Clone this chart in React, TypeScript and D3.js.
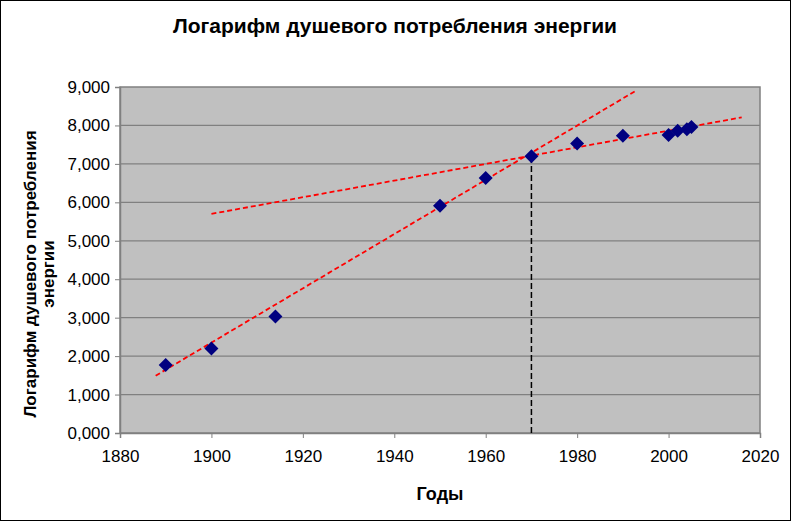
import React, { useEffect, useRef } from "react";
import * as d3 from "d3";

// measured points: year -> log of per-capita energy use
const years = [1890, 1900, 1914, 1950, 1960, 1970, 1980, 1990, 2000, 2002, 2004, 2005];
const values = [1.77, 2.2, 3.03, 5.91, 6.63, 7.2, 7.53, 7.73, 7.75, 7.86, 7.9, 7.96];

// trend lines (endpoints)
const steepTrendYears = [1887.8, 1992.8];
const steepTrendValues = [1.49, 8.9];
const flatTrendYears = [1900, 2016];
const flatTrendValues = [5.7, 8.21];

// vertical marker at the break year
const breakYear = 1970;
const breakValue = 7.2;

const xTicks = [1880, 1900, 1920, 1940, 1960, 1980, 2000, 2020];
const yTicks = [0, 1, 2, 3, 4, 5, 6, 7, 8, 9];

const title = "Логарифм душевого потребления энергии";
const xTitle = "Годы";
const yTitle = ["Логарифм душевого потребления", "энергии"];

const App: React.FC = () => {
  const svgRef = useRef<SVGSVGElement | null>(null);

  useEffect(() => {
    const width = 791;
    const height = 521;
    const marginLeft = 120;
    const marginRight = 31;
    const marginTop = 87;
    const marginBottom = 88;
    const font = "'Liberation Sans Narrow', 'Arial Narrow', 'Liberation Sans', Arial, sans-serif";

    const svg = d3.select(svgRef.current);
    svg.selectAll("*").remove();
    svg
      .attr("width", width)
      .attr("height", height)
      .attr("viewBox", [0, 0, width, height])
      .style("font-family", font);

    svg
      .append("rect")
      .attr("x", 0.5)
      .attr("y", 0.5)
      .attr("width", width - 1)
      .attr("height", height - 1)
      .attr("fill", "#ffffff")
      .attr("stroke", "#000000");

    const x = d3.scaleLinear().domain([1880, 2020]).range([marginLeft, width - marginRight]);
    const y = d3.scaleLinear().domain([0, 9]).range([height - marginBottom, marginTop]);

    // plot area
    svg
      .append("rect")
      .attr("x", x(1880))
      .attr("y", y(9))
      .attr("width", x(2020) - x(1880))
      .attr("height", y(0) - y(9))
      .attr("fill", "#c0c0c0")
      .attr("stroke", "#808080")
      .attr("stroke-width", 1.5);

    // gridlines
    svg
      .append("g")
      .selectAll("line")
      .data(yTicks.slice(1, -1))
      .enter()
      .append("line")
      .attr("x1", x(1880))
      .attr("x2", x(2020))
      .attr("y1", (d) => y(d))
      .attr("y2", (d) => y(d))
      .attr("stroke", "#808080")
      .attr("stroke-width", 1.2);

    const fmt = (d: d3.NumberValue) => d3.format(".3f")(+d).replace(".", ",");

    const gx = svg
      .append("g")
      .attr("transform", `translate(0,${y(0)})`)
      .call(d3.axisBottom(x).tickValues(xTicks).tickFormat(d3.format("d")).tickSize(5).tickPadding(12));
    gx.select(".domain").attr("stroke", "#808080").attr("stroke-width", 1.5);
    gx.selectAll(".tick line").attr("stroke", "#808080");
    gx.selectAll("text").style("font-size", "17px").style("font-family", font).attr("fill", "#000");

    const gy = svg
      .append("g")
      .attr("transform", `translate(${x(1880)},0)`)
      .call(d3.axisLeft(y).tickValues(yTicks).tickFormat(fmt).tickSize(5).tickPadding(5));
    gy.select(".domain").attr("stroke", "#808080").attr("stroke-width", 1.5);
    gy.selectAll(".tick line").attr("stroke", "#808080");
    gy.selectAll("text").style("font-size", "17px").style("font-family", font).attr("fill", "#000");

    // vertical black dashed marker
    svg
      .append("line")
      .attr("x1", x(breakYear))
      .attr("x2", x(breakYear))
      .attr("y1", y(0))
      .attr("y2", y(breakValue))
      .attr("stroke", "#000000")
      .attr("stroke-width", 1.5)
      .attr("stroke-dasharray", "6,3");

    // trend lines
    const trends = [
      { xs: steepTrendYears, ys: steepTrendValues },
      { xs: flatTrendYears, ys: flatTrendValues },
    ];
    trends.forEach((t) => {
      const pts: [number, number][] = t.xs.map((v, i) => [x(v), y(t.ys[i])]);
      svg
        .append("path")
        .attr("d", d3.line()(pts) as string)
        .attr("fill", "none")
        .attr("stroke", "#ff0000")
        .attr("stroke-width", 1.8)
        .attr("stroke-dasharray", "5,3");
    });

    // diamonds
    const diamond = d3.symbol().type(d3.symbolDiamond2).size(125);
    svg
      .append("g")
      .selectAll("path")
      .data(years)
      .enter()
      .append("path")
      .attr("d", diamond() as string)
      .attr("transform", (d, i) => `translate(${x(d)},${y(values[i])})`)
      .attr("fill", "#000080");

    // titles
    svg
      .append("text")
      .attr("x", 395)
      .attr("y", 33)
      .attr("text-anchor", "middle")
      .style("font-size", "21px")
      .style("font-weight", "bold")
      .text(title);

    svg
      .append("text")
      .attr("x", 440)
      .attr("y", 500)
      .attr("text-anchor", "middle")
      .style("font-size", "18px")
      .style("font-weight", "bold")
      .text(xTitle);

    const yt = svg
      .append("text")
      .attr("transform", "translate(36,274) rotate(-90)")
      .attr("text-anchor", "middle")
      .style("font-size", "17px")
      .style("font-weight", "bold");
    yTitle.forEach((s, i) => {
      yt.append("tspan")
        .attr("x", 0)
        .attr("dy", i === 0 ? 0 : 18)
        .text(s);
    });
  }, []);

  return (
    <div style={{ position: "absolute", left: 0, top: 0 }}>
      <svg ref={svgRef}></svg>
    </div>
  );
};

export default App;
